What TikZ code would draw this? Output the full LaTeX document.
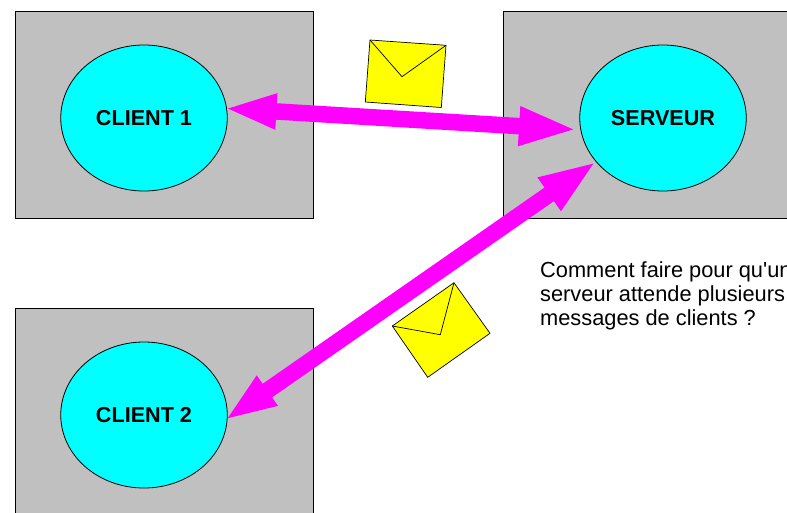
\documentclass[tikz,border=0pt]{standalone}
\usepackage{fontspec}
\setmainfont{Liberation Sans}
\newfontfamily\notefont{Liberation Sans}
\usetikzlibrary{arrows.meta,shapes.geometric}
\definecolor{boxgray}{HTML}{C0C0C0}
\definecolor{bubble}{HTML}{00FFFF}
\definecolor{link}{HTML}{FF00FF}
\definecolor{mail}{HTML}{FFFF00}
\tikzset{
  hostbox/.style={fill=boxgray,draw=black,line width=0.7pt},
  bubblenode/.style={ellipse,fill=bubble,draw=black,line width=0.8pt,minimum width=166.5pt,minimum height=146pt,inner sep=0pt,font=\bfseries\fontsize{21.6}{24}\selectfont},
  linkarrow/.style={draw=link,fill=link,line width=16.5pt},
  envelope/.style={fill=mail,draw=black,line width=0.7pt,line join=round},
  flap/.style={draw=black,line width=0.7pt,line join=round},
  note/.style={anchor=north west,align=left,inner sep=0pt,font=\notefont\fontsize{21.8}{24}\selectfont}
}
\begin{document}
\begin{tikzpicture}[x=1pt,y=-1pt]
\useasboundingbox (0,0) rectangle (787,512);
\clip (0,0) rectangle (787,512);
% host boxes
\draw[hostbox] (15.5,11) rectangle (313,218);
\draw[hostbox] (503.5,11) rectangle (795,218);
\draw[hostbox] (15.5,308) rectangle (313,525);
% clients and server
\node[bubblenode] (c1) at (144,118) {CLIENT 1};
\node[bubblenode] (srv) at (663,118) {SERVEUR};
\node[bubblenode] (c2) at (144,415) {CLIENT 2};
% arrow end points
\coordinate (c1tip) at (224,108.3);
\coordinate (srvtipA) at (578,129.7);
\coordinate (srvtipB) at (596.8,161.2);
\coordinate (c2tip) at (224.7,420.3);
\draw[linkarrow,{Triangle[length=52.5pt,width=32pt]}-{Triangle[length=59pt,width=35pt]}] (c1tip) -- (srvtipA);
\draw[linkarrow,{Triangle[length=52pt,width=32.5pt]}-{Triangle[length=58pt,width=36pt]}] (c2tip) -- (srvtipB);
% envelopes
\coordinate (e1a) at (370,40);
\coordinate (e1b) at (446,45.3);
\coordinate (e1c) at (441.3,107.5);
\coordinate (e1d) at (365.3,102);
\coordinate (e1v) at (402,76.7);
\draw[envelope] (e1a) -- (e1b) -- (e1c) -- (e1d) -- cycle;
\draw[flap] (e1a) -- (e1v) -- (e1b);
\coordinate (e2a) at (454,282.7);
\coordinate (e2b) at (490,333.3);
\coordinate (e2c) at (427.7,377.3);
\coordinate (e2d) at (392.3,326);
\coordinate (e2v) at (440.3,334.7);
\draw[envelope] (e2a) -- (e2b) -- (e2c) -- (e2d) -- cycle;
\draw[flap] (e2a) -- (e2v) -- (e2d);
% note
\node[note] (txt) at (540,261) {Comment faire pour qu'un\\serveur attende plusieurs\\messages de clients ?};
\end{tikzpicture}
\end{document}
